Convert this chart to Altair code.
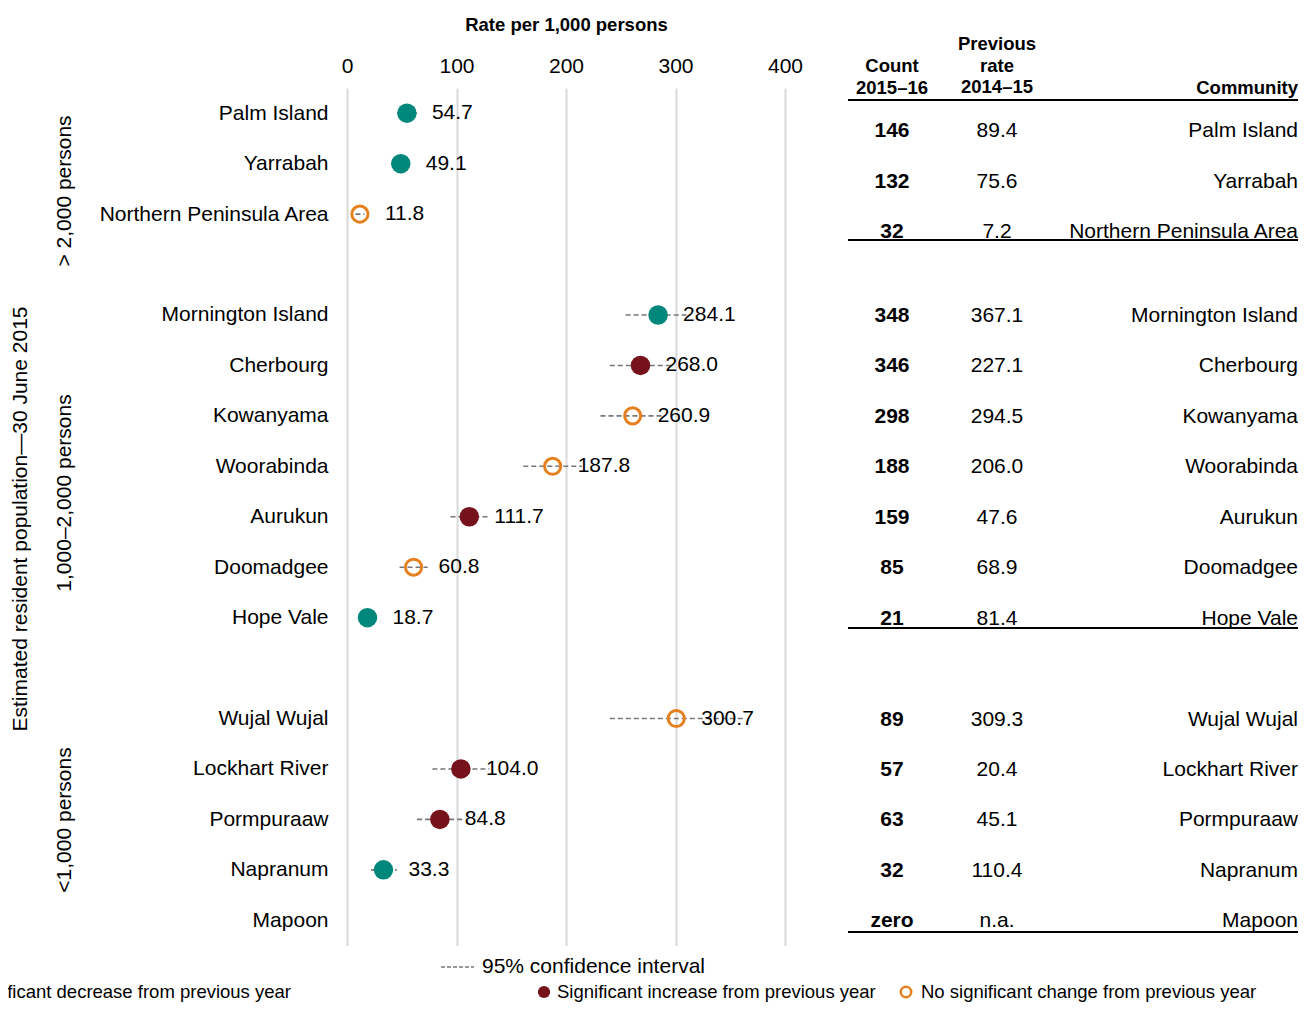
import altair as alt
import pandas as pd

# ---------------- data ----------------
communities = ["Palm Island", "Yarrabah", "Northern Peninsula Area",
               "Mornington Island", "Cherbourg", "Kowanyama", "Woorabinda",
               "Aurukun", "Doomadgee", "Hope Vale",
               "Wujal Wujal", "Lockhart River", "Pormpuraaw", "Napranum", "Mapoon"]
groups = [1, 1, 1, 2, 2, 2, 2, 2, 2, 2, 3, 3, 3, 3, 3]
rates = [54.7, 49.1, 11.8, 284.1, 268.0, 260.9, 187.8, 111.7, 60.8, 18.7,
         300.7, 104.0, 84.8, 33.3, None]
ci_low = [46.0, 41.0, 7.7, 254.5, 240.0, 231.5, 161.0, 94.5, 48.0, 10.7,
          240.0, 78.0, 64.0, 22.0, None]
ci_high = [64.0, 57.5, 15.9, 313.5, 296.0, 290.5, 214.5, 129.0, 73.7, 26.7,
           363.0, 130.0, 106.0, 45.5, None]
DEC = "Significant decrease from previous year"
INC = "Significant increase from previous year"
NSC = "No significant change from previous year"
status = [DEC, DEC, NSC, DEC, INC, NSC, NSC, INC, NSC, DEC,
          NSC, INC, INC, DEC, None]
counts = ["146", "132", "32", "348", "346", "298", "188", "159", "85", "21",
          "89", "57", "63", "32", "zero"]
prev_rates = ["89.4", "75.6", "7.2", "367.1", "227.1", "294.5", "206.0", "47.6",
              "68.9", "81.4", "309.3", "20.4", "45.1", "110.4", "n.a."]
x_ticks = [0, 100, 200, 300, 400]
group_labels = ["> 2,000 persons", "1,000\u20132,000 persons", "<1,000 persons"]
header_labels = ["Count\n2015\u201316", "Previous\nrate\n2014\u201315", "Community"]

row_order = communities[:3] + [" "] + communities[3:10] + ["  "] + communities[10:]

df = pd.DataFrame({
    "community": communities, "group": groups, "rate": rates,
    "lo": ci_low, "hi": ci_high, "status": status,
    "count": counts, "prev": prev_rates,
})
pts = df[df["rate"].notna()]

TEAL = "#00877B"
MAROON = "#76121C"
ORANGE = "#E6801F"
FONT = "Liberation Sans"
FS = 21

yenc = alt.Y("community:N",
             scale=alt.Scale(type="point", domain=row_order, padding=0.5),
             axis=alt.Axis(orient="left", domain=False, ticks=False, grid=False,
                           labelFontSize=FS, labelPadding=19, labelColor="black",
                           title=None, labelLimit=400))

xscale = alt.Scale(domain=[0, 400], nice=False)
xaxis = alt.Axis(orient="top", values=x_ticks, grid=True, gridColor="#d9d9d9",
                 gridWidth=2, domain=False, ticks=False, labelFontSize=FS,
                 labelPadding=12, labelColor="black", labelFlush=False,
                 title="Rate per 1,000 persons", titleFontSize=18.5,
                 titleFontWeight="bold", titlePadding=21, titleColor="black")

ci = alt.Chart(pts).mark_rule(color="#777777", strokeDash=[5, 3], strokeWidth=1.6).encode(
    x=alt.X("lo:Q", scale=xscale, axis=xaxis), x2="hi:Q", y=yenc)

filled = alt.Chart(pts).transform_filter(
    alt.datum.status != NSC
).mark_circle(size=380, opacity=1).encode(
    x=alt.X("rate:Q", scale=xscale),
    y=yenc,
    color=alt.Color("status:N", scale=alt.Scale(domain=[DEC, INC, NSC],
                                                range=[TEAL, MAROON, ORANGE]),
                    legend=None))

openp = alt.Chart(pts).transform_filter(
    alt.datum.status == NSC
).mark_point(size=260, filled=False, strokeWidth=3, color=ORANGE, opacity=1).encode(
    x=alt.X("rate:Q", scale=xscale), y=yenc)

vlabels = alt.Chart(pts).mark_text(align="left", baseline="middle", dx=25,
                                   fontSize=FS, color="black").encode(
    x=alt.X("rate:Q", scale=xscale), y=yenc,
    text=alt.Text("rate:Q", format=".1f"))

# ---------------- table ----------------
def table_layers(data, dy):
    c1 = alt.Chart(data).mark_text(align="center", baseline="middle", fontSize=FS,
                                   fontWeight="bold", color="black", dy=dy).encode(
        x=alt.value(545), y=yenc, text="count:N")
    c2 = alt.Chart(data).mark_text(align="center", baseline="middle", fontSize=FS,
                                   color="black", dy=dy).encode(
        x=alt.value(650), y=yenc, text="prev:N")
    c3 = alt.Chart(data).mark_text(align="right", baseline="middle", fontSize=FS,
                                   color="black", dy=dy).encode(
        x=alt.value(951), y=yenc, text="community:N")
    return [c1, c2, c3]

tab = table_layers(df[df["group"] == 1], 18) + table_layers(df[df["group"] != 1], 1)

one = pd.DataFrame({"k": [0]})

hdr = [
    alt.Chart(one).mark_text(text=header_labels[0], lineBreak="\n", align="center",
                             baseline="top", fontSize=18.5, fontWeight="bold",
                             lineHeight=21.5, color="black").encode(
        x=alt.value(545), y=alt.value(-31)),
    alt.Chart(one).mark_text(text=header_labels[1], lineBreak="\n", align="center",
                             baseline="top", fontSize=18.5, fontWeight="bold",
                             lineHeight=21.5, color="black").encode(
        x=alt.value(650), y=alt.value(-53)),
    alt.Chart(one).mark_text(text=header_labels[2], align="right",
                             baseline="top", fontSize=18.5, fontWeight="bold",
                             color="black").encode(
        x=alt.value(951), y=alt.value(-9.5)),
]

lines = [alt.Chart(one).mark_rule(color="black", strokeWidth=2).encode(
    x=alt.value(501), x2=alt.value(960), y=alt.value(yy)) for yy in [12, 152, 540, 844]]

# ---------------- side labels ----------------
side = [
    alt.Chart(one).mark_text(text=group_labels[0], angle=270, align="center",
                             baseline="middle", fontSize=FS, color="black").encode(
        x=alt.value(-282), y=alt.value(103)),
    alt.Chart(one).mark_text(text=group_labels[1], angle=270, align="center",
                             baseline="middle", fontSize=FS, color="black").encode(
        x=alt.value(-282), y=alt.value(405)),
    alt.Chart(one).mark_text(text=group_labels[2], angle=270, align="center",
                             baseline="middle", fontSize=FS, color="black").encode(
        x=alt.value(-282), y=alt.value(732)),
    alt.Chart(one).mark_text(text="Estimated resident population\u201430  June 2015",
                             angle=270, align="center", baseline="middle",
                             fontSize=FS, color="black").encode(
        x=alt.value(-326), y=alt.value(431)),
]

# ---------------- legend ----------------
LY = 904
legend = [
    alt.Chart(one).mark_rule(color="#777777", strokeDash=[4, 2], strokeWidth=1.5).encode(
        x=alt.value(94), x2=alt.value(127), y=alt.value(879)),
    alt.Chart(one).mark_text(text="95% confidence interval", align="left",
                             baseline="middle", fontSize=FS, color="black").encode(
        x=alt.value(135), y=alt.value(879)),
    alt.Chart(one).mark_circle(size=150, color=TEAL, opacity=1).encode(
        x=alt.value(-397), y=alt.value(LY)),
    alt.Chart(one).mark_text(text=DEC, align="right", baseline="middle",
                             fontSize=18.5, color="black").encode(
        x=alt.value(-56), y=alt.value(LY)),
    alt.Chart(one).mark_circle(size=150, color=MAROON, opacity=1).encode(
        x=alt.value(197), y=alt.value(LY)),
    alt.Chart(one).mark_text(text=INC, align="left", baseline="middle",
                             fontSize=18.5, color="black").encode(
        x=alt.value(210), y=alt.value(LY)),
    alt.Chart(one).mark_point(size=110, filled=False, strokeWidth=2.5, color=ORANGE,
                              opacity=1).encode(
        x=alt.value(559), y=alt.value(LY)),
    alt.Chart(one).mark_text(text=NSC, align="left", baseline="middle",
                             fontSize=18.5, color="black").encode(
        x=alt.value(574), y=alt.value(LY)),
]

chart = alt.layer(ci, filled, openp, vlabels, *tab, *hdr, *lines, *side, *legend).properties(
    width=438, height=857.5,
    autosize=alt.AutoSizeParams(type="none"),
    padding={"left": 339, "top": 80, "right": 513, "bottom": 60},
).configure(font=FONT).configure_view(stroke=None)

chart.save("out.html", embed_options={"renderer": "svg", "actions": False})
